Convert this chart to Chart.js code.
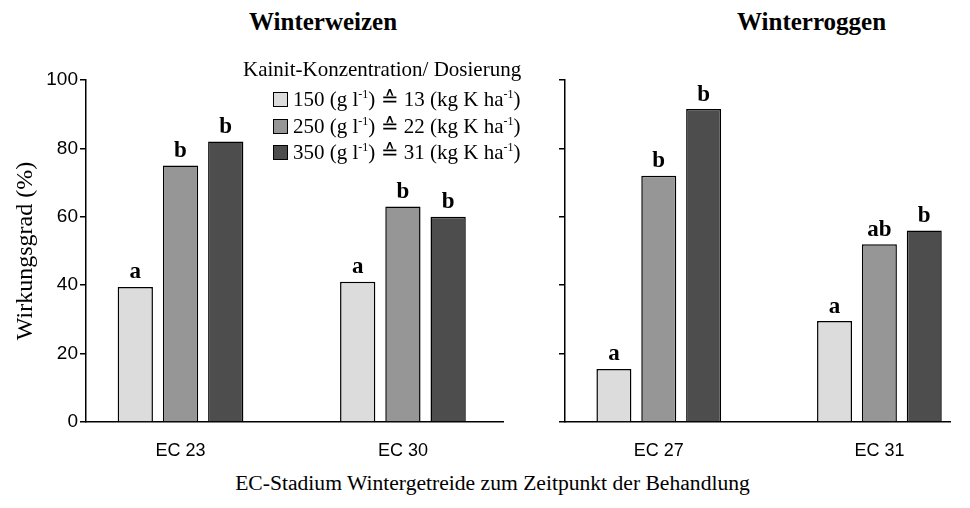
<!DOCTYPE html>
<html>
<head>
<meta charset="utf-8">
<script src="https://cdn.jsdelivr.net/npm/chart.js@4/dist/chart.umd.min.js"></script>
<style>
  body { margin: 0; background: #fff; width: 970px; height: 508px; position: relative; overflow: hidden; }
  .box { position: absolute; }
  .ptitle { position: absolute; font-family: 'Liberation Serif', serif; font-weight: bold; font-size: 25px; color: #000; white-space: nowrap; }
  #xtitle { position: absolute; left: 0; width: 985px; top: 471px; text-align: center; font-family: 'Liberation Serif', serif; font-size: 21.6px; color: #000; }
  #legend { position: absolute; left: 243px; top: 56px; font-family: 'Liberation Serif', serif; font-size: 21px; color: #000; white-space: nowrap; }
  #legend .head { height: 30px; line-height: 27px; }
  #legend .row { height: 26.5px; line-height: 26.5px; margin-left: 30px; }
  #legend .sw { display: inline-block; width: 13px; height: 13px; border: 1px solid #000; margin-right: 5px; vertical-align: -1px; }
  #legend sup { font-size: 12px; vertical-align: 8px; line-height: 0; }
</style>
</head>
<body>

<div class="ptitle" style="left:249px; top:8px;">Winterweizen</div>
<div class="ptitle" style="left:737px; top:8px;">Winterroggen</div>

<div class="box" style="left:0; top:0; width:515px; height:470px;"><canvas id="chartWeizen"></canvas></div>
<div class="box" style="left:515px; top:0; width:455px; height:470px;"><canvas id="chartRoggen"></canvas></div>

<div id="legend"></div>
<div id="xtitle">EC-Stadium Wintergetreide zum Zeitpunkt der Behandlung</div>

<script>
'use strict';

// data
let weizenStages = ['EC 23', 'EC 30'];
let roggenStages = ['EC 27', 'EC 31'];

let weizen150 = [39.5, 41];
let weizen250 = [75, 63];
let weizen350 = [82, 60];

let roggen150 = [15.5, 29.5];
let roggen250 = [72, 52];
let roggen350 = [91.5, 56];

// letters of the statistical test, per dose and stage
let weizenLetters = [['a', 'a'], ['b', 'b'], ['b', 'b']];
let roggenLetters = [['a', 'a'], ['b', 'ab'], ['b', 'b']];

let doseNames = ['150', '250', '350'];
let kaliNames = ['13', '22', '31'];
let barColors = ['#dcdcdc', '#969696', '#4d4d4d'];

let yTicks = [0, 20, 40, 60, 80, 100];

// the letters over the bars
let letterPlugin = {
    id: 'letters',
    afterDatasetsDraw(chart) {
        let ctx = chart.ctx;
        let letters = chart.options.plugins.letters.list;
        ctx.save();
        ctx.font = 'bold 23px "Liberation Serif"';
        ctx.fillStyle = '#000';
        ctx.textAlign = 'center';
        ctx.textBaseline = 'bottom';
        chart.data.datasets.forEach(function (ds, d) {
            chart.getDatasetMeta(d).data.forEach(function (bar, i) {
                ctx.fillText(letters[d][i], bar.x, bar.y - 3);
            });
        });
        ctx.restore();
    }
};

function makeChart(canvasId, stages, series, letters, showLabels, axisWidth, xMax) {
    let positions = stages.map(function (s, i) { return i * 2 + 1; });
    let datasets = series.map(function (values, d) {
        return {
            label: doseNames[d],
            data: values.map(function (v, i) { return { x: positions[i], y: v }; }),
            backgroundColor: barColors[d],
            borderColor: '#000',
            borderWidth: 1.5,
            categoryPercentage: 0.61,
            barPercentage: 0.78
        };
    });

    let ctx = document.getElementById(canvasId).getContext('2d');
    return new Chart(ctx, {
        type: 'bar',
        data: { datasets: datasets },
        plugins: [letterPlugin],
        options: {
            responsive: true,
            maintainAspectRatio: false,
            animation: false,
            layout: { padding: { top: 80, right: showLabels ? 12 : 20, bottom: 0, left: 0 } },
            plugins: {
                legend: { display: false },
                tooltip: { enabled: false },
                letters: { list: letters }
            },
            scales: {
                x: {
                    type: 'linear',
                    offset: false,
                    bounds: 'data',
                    min: 0.15,
                    max: xMax,
                    afterBuildTicks: function (scale) {
                        scale.ticks = positions.map(function (p) { return { value: p }; });
                    },
                    afterFit: function (scale) { scale.height = 48; },
                    ticks: {
                        padding: 10,
                        color: '#000',
                        font: { family: '"Liberation Sans"', size: 18 },
                        callback: function (value, index) { return stages[index]; }
                    },
                    grid: { display: false, offset: false },
                    border: { display: true, color: '#000', width: 1.5 }
                },
                y: {
                    min: 0,
                    max: 100,
                    afterBuildTicks: function (scale) {
                        scale.ticks = yTicks.map(function (v) { return { value: v }; });
                    },
                    afterFit: function (scale) { scale.width = axisWidth; },
                    ticks: {
                        display: true,
                        padding: 2,
                        color: '#000',
                        font: { family: '"Liberation Sans"', size: 19 },
                        callback: function (value) { return showLabels ? value : ''; }
                    },
                    grid: { drawOnChartArea: false, drawTicks: true, tickLength: 6, color: '#000', lineWidth: 1.5 },
                    border: { display: true, color: '#000', width: 1.5 },
                    title: {
                        display: showLabels,
                        text: 'Wirkungsgrad (%)',
                        color: '#000',
                        font: { family: '"Liberation Serif"', size: 24 },
                        padding: { top: 11, bottom: 0 }
                    }
                }
            }
        }
    });
}

makeChart('chartWeizen', weizenStages, [weizen150, weizen250, weizen350], weizenLetters, true, 86, 3.9);
makeChart('chartRoggen', roggenStages, [roggen150, roggen250, roggen350], roggenLetters, false, 50, 3.64);

// legend with superscripts
let legendBox = document.getElementById('legend');
let html = '<div class="head">Kainit-Konzentration/ Dosierung</div>';
for (let i = 0; i < doseNames.length; i++) {
    html += '<div class="row"><span class="sw" style="background:' + barColors[i] + '"></span>' +
        doseNames[i] + ' (g l<sup>-1</sup>) \u2259 ' + kaliNames[i] + ' (kg K ha<sup>-1</sup>)</div>';
}
legendBox.innerHTML = html;
</script>
</body>
</html>
